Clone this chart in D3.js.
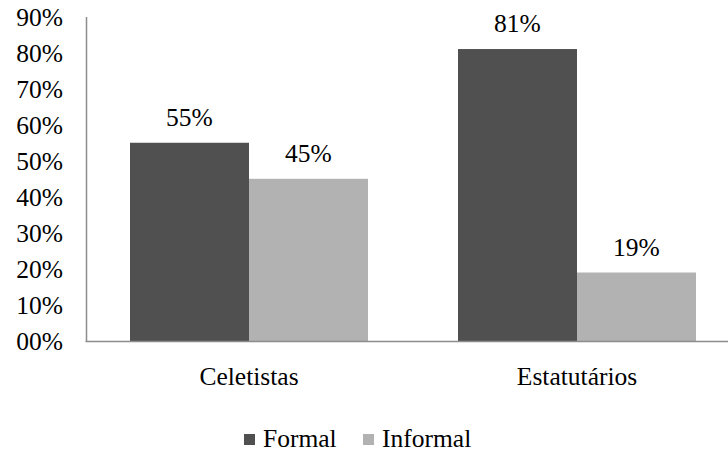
<!DOCTYPE html>
<html>
<head>
<meta charset="utf-8">
<script src="https://cdn.jsdelivr.net/npm/d3@7"></script>
<style>
  html, body { margin: 0; padding: 0; background: #fff; }
</style>
</head>
<body>
<svg id="chart" width="728" height="454"></svg>
<script>
// Share of workers by contract type
const categories = ["Celetistas", "Estatutários"];
const seriesNames = ["Formal", "Informal"];
const formalValues = [55, 81];
const informalValues = [45, 19];
const yTicks = [0, 10, 20, 30, 40, 50, 60, 70, 80, 90];
const tickLabels = ["00%", "10%", "20%", "30%", "40%", "50%", "60%", "70%", "80%", "90%"];
const colors = ["#505050", "#b2b2b2"];

const rows = categories.map((c, i) => ({ cat: c, vals: [formalValues[i], informalValues[i]] }));

const svg = d3.select("#chart");
const serif = "'Times New Roman', 'Liberation Serif', Tinos, 'DejaVu Serif', 'Noto Serif', serif";
const fontSize = 25.5;
const plotLeft = 85, plotRight = 741, plotTop = 16.6, plotBottom = 341;

const x = d3.scaleBand().domain(categories).range([plotLeft, plotRight]).paddingInner(0.2744).paddingOuter(0.1372);
const xs = d3.scaleBand().domain(seriesNames).range([0, x.bandwidth()]);
const y = d3.scaleLinear().domain([0, 90]).range([plotBottom, plotTop]);

// bars
const groups = svg.append("g").selectAll("g").data(rows).join("g")
  .attr("transform", d => `translate(${x(d.cat)},0)`);
groups.selectAll("rect").data(d => d.vals.map((v, i) => ({ v, s: seriesNames[i], i })))
  .join("rect")
  .attr("x", d => xs(d.s))
  .attr("width", xs.bandwidth())
  .attr("y", d => y(d.v))
  .attr("height", d => y(0) - y(d.v))
  .attr("fill", d => colors[d.i]);

// value labels
groups.selectAll("text.val").data(d => d.vals.map((v, i) => ({ v, s: seriesNames[i] })))
  .join("text").attr("class", "val")
  .attr("x", d => xs(d.s) + xs.bandwidth() / 2)
  .attr("y", d => y(d.v) - 17)
  .attr("text-anchor", "middle")
  .style("font-family", serif)
  .style("font-size", fontSize + "px")
  .text(d => d.v + "%");

// y axis
const yAxis = d3.axisLeft(y).tickValues(yTicks).tickSize(0).tickPadding(23)
  .tickFormat((d, i) => tickLabels[i]);
const ga = svg.append("g").attr("transform", `translate(${plotLeft + 1},0)`).call(yAxis);
ga.select(".domain").attr("stroke", "#8c8c8c").attr("stroke-width", 1.5);
ga.selectAll("text").style("font-family", serif).style("font-size", fontSize + "px").attr("dy", "0.35em").attr("fill", "#000");

// x axis
const xAxis = d3.axisBottom(x).tickSize(0).tickPadding(26);
const gx = svg.append("g").attr("transform", `translate(0,${plotBottom})`).call(xAxis);
gx.select(".domain").attr("stroke", "#8c8c8c").attr("stroke-width", 1.5);
gx.selectAll("text").style("font-family", serif).style("font-size", fontSize + "px").attr("fill", "#000");

// legend
const legendX = [244, 363];
const lg = svg.append("g").selectAll("g").data(seriesNames).join("g")
  .attr("transform", (d, i) => `translate(${legendX[i]},434)`);
lg.append("rect").attr("width", 11).attr("height", 11).attr("fill", (d, i) => colors[i]);
lg.append("text").attr("x", 19).attr("y", 13)
  .style("font-family", serif).style("font-size", fontSize + "px").text(d => d);
</script>
</body>
</html>
